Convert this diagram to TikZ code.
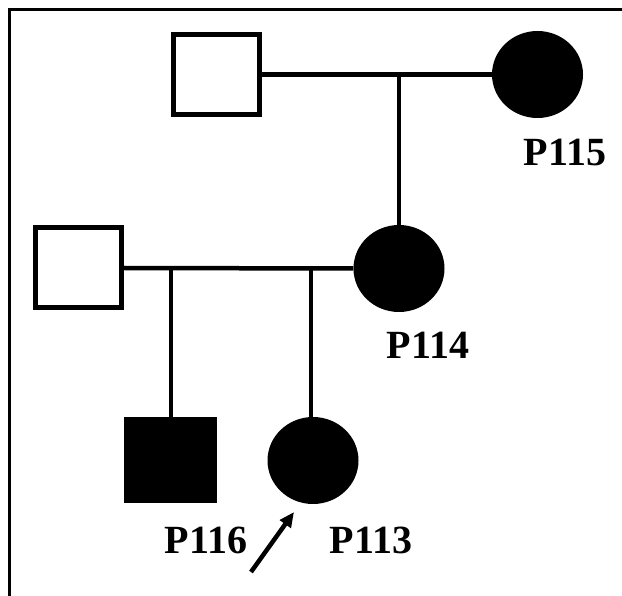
\documentclass[tikz,border=0pt]{standalone}
\usepackage{fontspec}
\setmainfont{Liberation Serif}
\usetikzlibrary{shapes.geometric,arrows.meta}
\begin{document}
\begin{tikzpicture}[x=1pt,y=-1pt,
  male/.style={rectangle,draw=black,line width=5pt,minimum width=86pt,minimum height=80pt,inner sep=0pt,fill=white},
  malefill/.style={rectangle,fill=black,minimum width=93pt,minimum height=86pt,inner sep=0pt},
  female/.style={ellipse,fill=black,minimum width=91pt,minimum height=87pt,inner sep=0pt},
  lbl/.style={font=\fontsize{40}{40}\selectfont\bfseries,inner sep=0pt},
  link/.style={line width=4.5pt}]
\useasboundingbox (0,0) rectangle (622,596);
\fill[white] (0,0) rectangle (622,596);
\draw[line width=3pt] (9.5,596) -- (9.5,9.5) -- (622,9.5);
% generation I
\node[male] (gf) at (216.5,74.5) {};
\node[female] (p115) at (537.5,74.5) {};
\node[lbl] (l115) at (565,152) {P115};
\coordinate (m1) at (399,74.5);
\draw[link] (gf.east) -- (p115.west);
% generation II
\node[female] (p114) at (399,268.5) {};
\node[lbl] (l114) at (428,345) {P114};
\node[male] (f) at (78.5,268) {};
\coordinate (m2) at (171,268);
\coordinate (m3) at (311,268);
\draw[link] (m1) -- (p114.north);
\draw[link] (f.east) -- (p114.west);
% generation III
\node[malefill] (p116) at (170.5,460) {};
\node[female] (p113) at (313,460.5) {};
\node[lbl] (l116) at (206,540) {P116};
\node[lbl] (l113) at (371,540) {P113};
\draw[link] (m2) -- (m2 |- p116.north);
\draw[link] (m3) -- (m3 |- p113.north);
\coordinate (a0) at (251,572);
\coordinate (a1) at (294,512);
\draw[line width=4.5pt,-{Triangle[length=15pt,width=13pt]}] (a0) -- (a1);
\end{tikzpicture}
\end{document}
